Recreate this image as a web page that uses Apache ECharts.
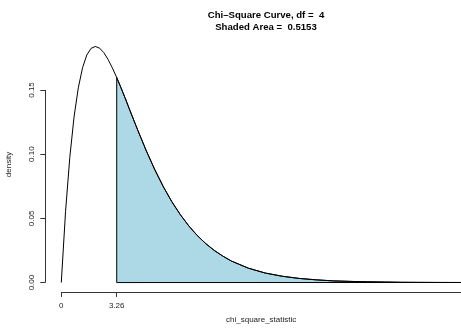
<!DOCTYPE html>
<html>
<head>
<meta charset="utf-8">
<script src="https://cdn.jsdelivr.net/npm/echarts@6/dist/echarts.min.js"></script>
<style>
html,body{margin:0;padding:0;background:#fff;}
#chart{width:461px;height:331px;}
</style>
</head>
<body>
<div id="chart"></div>
<script>
// ---- data ----
const titleLines = ['Chi\u2013Square Curve, df =  4', 'Shaded Area =  0.5153'];
const xAxisTitle = 'chi_square_statistic';
const yAxisTitle = 'density';
const xTickValues = [0, 3.26];
const xTickLabels = ['0', '3.26'];
const yTickValues = [0, 0.05, 0.10, 0.15];
const yTickLabels = ['0.00', '0.05', '0.10', '0.15'];
const cutoff = 3.26;
const chiX = [0, 0.25, 0.5, 0.75, 1, 1.25, 1.5, 1.75, 2, 2.25, 2.5, 2.75, 3, 3.26, 3.5, 3.75, 4,
  4.5, 5, 5.5, 6, 6.5, 7, 7.5, 8, 8.5, 9, 9.5, 10, 11, 12, 13, 14, 15, 16, 17, 18, 19, 20, 21, 22, 23.51];
const chiDensity = [0, 0.0552, 0.0974, 0.1289, 0.1516, 0.1673, 0.1772, 0.1824, 0.1839, 0.1826, 0.1791, 0.1738, 0.1673, 0.1597, 0.1521, 0.1439, 0.1353,
  0.1186, 0.1026, 0.0879, 0.0747, 0.0630, 0.0529, 0.0441, 0.0366, 0.0303, 0.0250, 0.0206, 0.0168, 0.0112, 0.0074, 0.0049, 0.0032, 0.0021, 0.0013, 0.0009, 0.0006, 0.0004, 0.0002, 0.00014, 0.00009, 0.00005];

// ---- derived ----
const pts = chiX.map((x, i) => [x, chiDensity[i]]);
const shaded = pts.filter(p => p[0] >= cutoff);
const xLast = chiX[chiX.length - 1];
const border = [[cutoff, 0]].concat(shaded, [[xLast, 0], [cutoff, 0]]);
const xr = xLast - chiX[0];
const xMin = chiX[0] - 0.04 * xr, xMax = xLast + 0.04 * xr;
const yTop = Math.max.apply(null, chiDensity);
const yMin = 0 - 0.04 * yTop, yMax = yTop + 0.04 * yTop;

function lookup(vals, labels, v) {
  let best = 0;
  vals.forEach((t, i) => { if (Math.abs(t - v) < Math.abs(vals[best] - v)) best = i; });
  return labels[best];
}
const axisCol = '#333';
const font = 'Liberation Sans, Arial, sans-serif';

const chart = echarts.init(document.getElementById('chart'), null, {renderer: 'canvas'});
chart.setOption({
  animation: false,
  backgroundColor: '#fff',
  title: {
    text: titleLines.join('\n'),
    left: 261, top: 5, textAlign: 'center',
    textStyle: {fontFamily: font, fontWeight: 'bold', fontSize: 9.6, lineHeight: 11.5, color: '#000'}
  },
  grid: {left: 45.3, top: 37, width: 431.7, height: 255, containLabel: false, outerBoundsMode: 'none'},
  xAxis: {
    type: 'value', min: xMin, max: xMax,
    name: xAxisTitle, nameLocation: 'middle', nameGap: 24,
    nameTextStyle: {fontFamily: font, fontSize: 8, color: '#222'},
    axisLine: {show: false, onZero: false}, splitLine: {show: false},
    axisTick: {show: true, length: 5, customValues: xTickValues, lineStyle: {color: axisCol, width: 1}},
    axisLabel: {show: true, customValues: xTickValues, margin: 10, fontFamily: font, fontSize: 8, color: '#222',
      formatter: v => lookup(xTickValues, xTickLabels, v)}
  },
  yAxis: {
    type: 'value', min: yMin, max: yMax,
    name: yAxisTitle, nameLocation: 'middle', nameGap: 33, nameRotate: 90,
    nameTextStyle: {fontFamily: font, fontSize: 8, color: '#222'},
    axisLine: {show: false, onZero: false}, splitLine: {show: false},
    axisTick: {show: true, length: 5, customValues: yTickValues, lineStyle: {color: axisCol, width: 1}},
    axisLabel: {show: true, customValues: yTickValues, margin: 10, rotate: 90, align: 'center', verticalAlign: 'bottom',
      fontFamily: font, fontSize: 8, color: '#222',
      formatter: v => lookup(yTickValues, yTickLabels, v)}
  },
  series: [
    {type: 'line', data: shaded, symbol: 'none', silent: true, lineStyle: {width: 0},
      areaStyle: {color: '#ADD8E6', opacity: 1, origin: 0}, z: 1},
    {type: 'line', data: border, symbol: 'none', silent: true, clip: false,
      lineStyle: {color: '#000', width: 1}, z: 2},
    {type: 'line', data: pts, symbol: 'none', silent: true, clip: false,
      lineStyle: {color: '#000', width: 1}, z: 3}
  ]
});

// axis lines spanning first..last tick (R style), positioned through the chart's scales
const snap = v => Math.floor(v) + 0.5;
const yA = chart.convertToPixel({gridIndex: 0}, [xMin, yTickValues[0]]);
const yB = chart.convertToPixel({gridIndex: 0}, [xMin, yTickValues[yTickValues.length - 1]]);
const xA = chart.convertToPixel({gridIndex: 0}, [xTickValues[0], yMin]);
const xB = chart.convertToPixel({gridIndex: 0}, [xMax, yMin]);
chart.setOption({
  graphic: [
    {type: 'line', shape: {x1: snap(yA[0]), y1: yA[1], x2: snap(yB[0]), y2: yB[1]}, style: {stroke: axisCol, lineWidth: 1}, silent: true, z: 10},
    {type: 'line', shape: {x1: xA[0], y1: snap(xA[1]), x2: xB[0], y2: snap(xB[1])}, style: {stroke: axisCol, lineWidth: 1}, silent: true, z: 10}
  ]
});
</script>
</body>
</html>
